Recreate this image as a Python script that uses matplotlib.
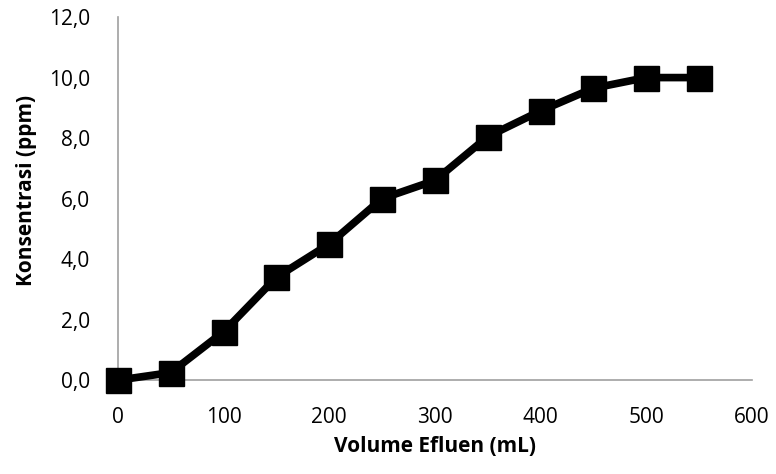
import matplotlib
matplotlib.use("Agg")
import matplotlib.pyplot as plt
from matplotlib.ticker import FuncFormatter

volume = [0, 50, 100, 150, 200, 250, 300, 350, 400, 450, 500, 550]
konsentrasi = [0.0, 0.25, 1.6, 3.4, 4.5, 6.0, 6.6, 8.05, 8.9, 9.65, 10.0, 10.0]

plt.rcParams['font.family'] = ['Open Sans', 'DejaVu Sans']

fig = plt.figure(figsize=(7.76, 4.74), dpi=100)
ax = fig.add_axes([0.152, 0.198, 0.817, 0.766])

ax.plot(volume, konsentrasi, color='black', linewidth=5.5, marker='s',
        markersize=18, markerfacecolor='black', markeredgecolor='black',
        clip_on=False, zorder=3)

ax.set_xlim(0, 600)
ax.set_ylim(0, 12)
ax.set_xticks(range(0, 601, 100))
ax.set_yticks(range(0, 13, 2))
ax.yaxis.set_major_formatter(FuncFormatter(lambda v, p: "{:.1f}".format(v).replace(".", ",")))

for s in ['top', 'right']:
    ax.spines[s].set_visible(False)
for s in ['left', 'bottom']:
    ax.spines[s].set_color('#a0a0a0')
    ax.spines[s].set_linewidth(1.2)

ax.tick_params(length=0, labelsize=15, colors='black')
ax.tick_params(axis='y', pad=20)
ax.tick_params(axis='x', pad=19)

ax.set_xlabel("Volume Efluen (mL)", fontsize=15, fontweight='bold')
ax.set_ylabel("Konsentrasi (ppm)", fontsize=15, fontweight='bold')
ax.xaxis.set_label_coords(0.5, -0.155)
ax.yaxis.set_label_coords(-0.128, 0.523)

fig.savefig("out.png", dpi=100)
